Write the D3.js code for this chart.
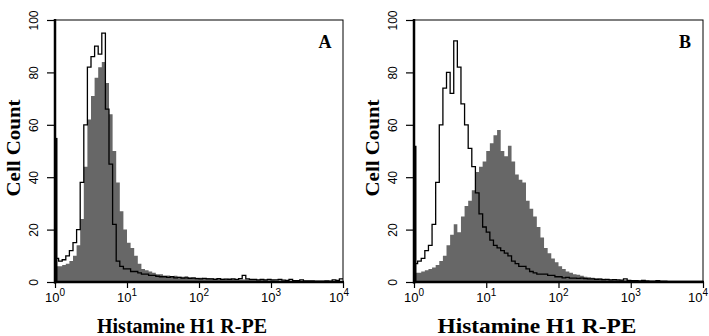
<!DOCTYPE html>
<html>
<head>
<meta charset="utf-8">
<script src="https://cdn.jsdelivr.net/npm/d3@7"></script>
<style>
body{margin:0;background:#fff}
svg{display:block}
</style>
</head>
<body>
<svg id="chart" width="709" height="336"></svg>
<script>
// histogram bins: 0.05 decade wide, from 10^0 to 10^4 (80 bins)
var bin_step = 0.05;

// panel A
var isotypeA = [9, 8, 8.5, 10, 12, 15, 20, 38, 60, 82,
	86, 90, 87, 95, 66, 45, 22, 8, 6, 5,
	5, 4, 4, 3.5, 3, 3, 2.5, 2.5, 2.2, 2,
	2, 1.8, 2, 1.6, 1.8, 1.5, 1.6, 1.4, 1.5, 1.3,
	1.2, 1.4, 1.2, 1.2, 1.0, 1.3, 1.0, 1.1, 1.0, 1.2,
	1.0, 1.3, 2.5, 1.2, 1.0, 1.0, 0.8, 1.0, 0.8, 1.0,
	0.8, 0.8, 1.0, 0.7, 0.6, 1.0, 0.5, 0.5, 0.8, 0.4,
	0.4, 0.4, 0.3, 0.3, 0.3, 0.4, 0.3, 0.8, 0.6, 1.2];
var stainedA = [6, 6, 6.5, 7, 8, 10, 14, 24, 44, 62,
	71, 78, 82, 84, 76, 64, 50, 38, 27, 20,
	15, 13, 10, 7, 5, 4.5, 4, 3.5, 3, 3,
	2.5, 2.5, 2.2, 2.4, 2, 2, 2.2, 1.8, 1.8, 1.6,
	1.6, 1.5, 1.5, 1.4, 1.3, 1.4, 1.2, 1.2, 1.3, 1.1,
	1.1, 1.0, 1.0, 1.0, 0.9, 0.9, 0.8, 0.9, 0.8, 0.7,
	0.7, 0.6, 0.6, 0.5, 0.5, 0.5, 0.4, 0.4, 0.4, 0.3,
	0.3, 0.3, 0.3, 0.3, 0.2, 0.2, 0.2, 0.3, 0.3, 0.4];

// panel B
var isotypeB = [7, 8, 9, 12, 14, 22, 38, 60, 74, 80,
	72, 92, 82, 68, 60, 51, 44, 34, 26, 21,
	19, 16, 14, 13, 12, 11, 10, 8, 7, 6,
	6, 5, 4, 3.5, 3, 3, 3, 2.5, 2.5, 2,
	2, 1.6, 1.8, 1.5, 1.5, 1.4, 1.5, 1.3, 1.2, 1.2,
	1.0, 1.1, 0.9, 1.0, 0.8, 0.9, 0.8, 0.7, 1.2, 0.6,
	0.5, 0.5, 0.4, 0.6, 0.4, 0.3, 0.3, 0.5, 0.3, 0.3,
	0.2, 0.2, 0.2, 0.2, 0.2, 0.2, 0.2, 0.2, 0.2, 0.2];
var stainedB = [3.5, 3.5, 4, 4.5, 5, 5.5, 6.5, 8, 10, 14,
	18, 22, 19, 25, 29, 31, 35, 42, 44, 46,
	50, 53, 56, 58, 50, 48, 52, 46, 41, 39,
	38, 31, 28, 25, 21, 17, 13, 11, 9, 7.5,
	6, 5, 4, 3.5, 3, 2.8, 2.4, 2, 1.8, 1.6,
	1.4, 1.3, 1.2, 1.1, 1.0, 0.9, 0.8, 0.8, 0.7, 0.6,
	0.5, 0.5, 0.4, 0.4, 0.4, 0.3, 0.3, 0.3, 0.2, 0.2,
	0.2, 0.2, 0.1, 0.1, 0.1, 0.1, 0.1, 0.1, 0.1, 0.1];

// counts piled up in the lowest channel
var first_channel = [55, 52];

var panel_names = ["A", "B"];
var y_ticks = [0, 20, 40, 60, 80, 100];
var decades = [0, 1, 2, 3, 4];
var x_title = "Histamine H1 R-PE";
var y_title = "Cell Count";

var gray = "#676767";
var serif = "'Liberation Serif', 'Times New Roman', serif";
var sans = "'Liberation Sans', Arial, sans-serif";
var svg = d3.select("#chart");

var panels = [
	{left: 55, right: 343, iso: isotypeA, stain: stainedA, pile: first_channel[0], name: panel_names[0], title_x: 182, title_len: 170},
	{left: 414, right: 703, iso: isotypeB, stain: stainedB, pile: first_channel[1], name: panel_names[1], title_x: 537, title_len: 199}
];

function to_bins(values){
	var pts = values.map(function(v, i){ return {x: Math.pow(10, i*bin_step), v: v}; });
	pts.push({x: Math.pow(10, values.length*bin_step), v: values[values.length-1]});
	return pts;
}

function draw_panel(p, idx){
	var top = 20, bottom = 282;
	var x = d3.scaleLog().domain([1, 1e4]).range([p.left, p.right]);
	var y = d3.scaleLinear().domain([0, 100]).range([bottom, top]);

	var g = svg.append("g");
	var clip_id = "clip" + idx;
	g.append("clipPath").attr("id", clip_id)
		.append("rect").attr("x", p.left).attr("y", top)
		.attr("width", p.right - p.left).attr("height", bottom - top);

	var plot = g.append("g").attr("clip-path", "url(#" + clip_id + ")");

	var area = d3.area()
		.x(function(d){ return x(d.x); })
		.y0(y(0))
		.y1(function(d){ return y(d.v); })
		.curve(d3.curveStepAfter);
	var line = d3.line()
		.x(function(d){ return x(d.x); })
		.y(function(d){ return y(d.v); })
		.curve(d3.curveStepAfter);

	plot.append("path")
		.attr("d", area(to_bins(p.stain)))
		.attr("fill", gray);
	plot.append("path")
		.attr("d", line(to_bins(p.iso)))
		.attr("fill", "none")
		.attr("stroke", "#000")
		.attr("stroke-width", 1.3);

	// first channel pile-up
	g.append("line")
		.attr("x1", x(1) + 1.5).attr("x2", x(1) + 1.5)
		.attr("y1", y(0)).attr("y2", y(p.pile))
		.attr("stroke", "#000").attr("stroke-width", 2);

	// frame
	g.append("rect")
		.attr("x", p.left).attr("y", top)
		.attr("width", p.right - p.left).attr("height", bottom - top)
		.attr("fill", "none").attr("stroke", "#000").attr("stroke-width", 1);

	// y axis
	var ya = g.append("g").attr("transform", "translate(" + p.left + ",0)");
	ya.call(d3.axisLeft(y).tickValues(d3.range(0, 101, 4)).tickSize(5).tickFormat(""));
	ya.call(d3.axisLeft(y).tickValues(y_ticks).tickSize(8).tickFormat(d3.format("d")));
	ya.selectAll(".domain").remove();
	ya.selectAll("line").attr("stroke-width", 1.2);
	ya.selectAll("text")
		.attr("transform", "rotate(-90)")
		.attr("x", 0).attr("y", -17).attr("dy", 0)
		.attr("text-anchor", "middle")
		.style("font-family", sans)
		.style("font-size", "12px")
		.attr("fill", "#000");

	// x axis
	var minor = [];
	decades.slice(0, -1).forEach(function(dd){
		for (var k = 2; k < 10; k++) minor.push(k * Math.pow(10, dd));
	});
	var xa = g.append("g").attr("transform", "translate(0," + bottom + ")");
	xa.call(d3.axisBottom(x).tickValues(minor).tickSize(4).tickFormat(""));
	xa.call(d3.axisBottom(x).tickValues(decades.map(function(d){ return Math.pow(10, d); })).tickSize(6).tickFormat(""));
	xa.selectAll(".domain").remove();
	xa.selectAll("line").attr("stroke-width", 1.2);

	decades.forEach(function(dd){
		var last = dd == decades[decades.length-1];
		var tx = x(Math.pow(10, dd));
		var t = g.append("text")
			.attr("x", last ? Math.min(tx + 6, 708) : tx)
			.attr("y", 302)
			.attr("text-anchor", last ? "end" : "middle")
			.style("font-family", sans)
			.style("font-size", "13px");
		t.append("tspan").text("10");
		t.append("tspan").attr("dy", -6).style("font-size", "10px").text(dd);
	});

	// thick axis lines
	g.append("line")
		.attr("x1", p.left).attr("x2", p.left)
		.attr("y1", top - 1).attr("y2", bottom + 1.5)
		.attr("stroke", "#000").attr("stroke-width", 2.5);
	g.append("line")
		.attr("x1", p.left - 1).attr("x2", p.right + 1)
		.attr("y1", bottom).attr("y2", bottom)
		.attr("stroke", "#000").attr("stroke-width", 2.5);

	// titles
	g.append("text")
		.attr("x", p.title_x).attr("y", 333)
		.attr("text-anchor", "middle")
		.attr("textLength", p.title_len)
		.attr("lengthAdjust", "spacingAndGlyphs")
		.style("font-family", serif)
		.style("font-weight", "bold")
		.style("font-size", "20px")
		.text(x_title);
	g.append("text")
		.attr("transform", "translate(" + (p.left - 35) + ",148) rotate(-90)")
		.attr("text-anchor", "middle")
		.attr("textLength", 97)
		.attr("lengthAdjust", "spacingAndGlyphs")
		.style("font-family", serif)
		.style("font-weight", "bold")
		.style("font-size", "19px")
		.text(y_title);
	g.append("text")
		.attr("x", p.right - 18).attr("y", 48)
		.attr("text-anchor", "middle")
		.style("font-family", serif)
		.style("font-weight", "bold")
		.style("font-size", "18px")
		.text(p.name);
}

panels.forEach(draw_panel);
</script>
</body>
</html>
